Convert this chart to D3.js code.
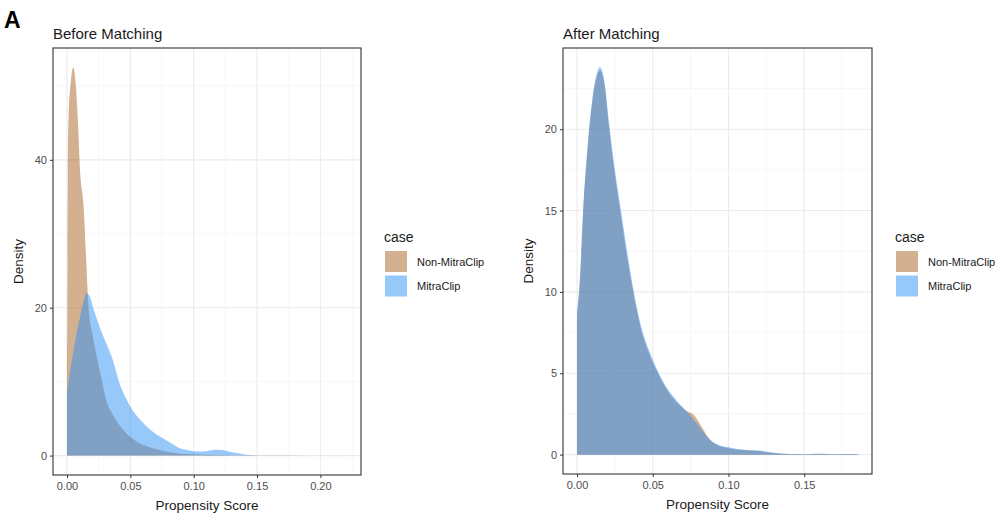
<!DOCTYPE html>
<meta charset="utf-8">
<style>
  body { margin: 0; background: #fff; }
  text { font-family: "Liberation Sans", Arial, sans-serif; }
  .tick text { fill: #4d4d4d; font-size: 11px; }
  .tick line { stroke: #333; }
  .domain { display: none; }
</style>
<body>
<svg id="chart" width="1008" height="517"></svg>
<script src="https://d3js.org/d3.v7.min.js"></script>
<script>
  // ---- data ----
  var seriesNames = ["Non-MitraClip", "MitraClip"];

  // Before matching
  var beforeNonX = [0, 0.0003, 0.0007, 0.0013, 0.003, 0.005, 0.007, 0.0084, 0.0105, 0.013, 0.015, 0.017, 0.020, 0.024, 0.028, 0.031, 0.036, 0.042, 0.050, 0.058, 0.066, 0.075, 0.085, 0.095, 0.11, 0.13, 0.16, 0.19, 0.221];
  var beforeNonY = [10.5, 20, 38, 46, 50.5, 52.5, 50, 46, 38, 34, 27, 20, 16.5, 13, 9.8, 7.5, 5.6, 4.0, 2.5, 1.6, 1.1, 0.65, 0.35, 0.2, 0.1, 0.05, 0.03, 0.02, 0.01];
  var beforeMitraX = [0, 0.0025, 0.005, 0.0075, 0.01, 0.0125, 0.0155, 0.018, 0.021, 0.026, 0.031, 0.036, 0.042, 0.047, 0.052, 0.058, 0.065, 0.073, 0.081, 0.089, 0.095, 0.10, 0.105, 0.11, 0.115, 0.12, 0.125, 0.13, 0.135, 0.14, 0.145, 0.152];
  var beforeMitraY = [8.5, 11.5, 14, 16.5, 18.5, 20.5, 22, 21.5, 19.8, 17.3, 15.2, 13, 9.5, 7.6, 6.1, 4.8, 3.6, 2.6, 1.8, 1.0, 0.75, 0.6, 0.55, 0.6, 0.75, 0.8, 0.7, 0.45, 0.3, 0.15, 0.08, 0.02];

  // After matching
  var afterNonX = [0, 0.002, 0.004, 0.007, 0.010, 0.013, 0.015, 0.018, 0.021, 0.025, 0.029, 0.033, 0.0375, 0.042, 0.048, 0.054, 0.060, 0.066, 0.072, 0.077, 0.082, 0.088, 0.095, 0.10, 0.11, 0.12, 0.13, 0.14, 0.15, 0.16, 0.17, 0.18, 0.1855];
  var afterNonY = [8.5, 10.8, 14.8, 18.8, 21.6, 23.2, 23.6, 22.8, 20.2, 17.2, 14.7, 12.2, 9.8, 7.8, 6.1, 4.9, 3.9, 3.2, 2.7, 2.45, 1.75, 0.9, 0.5, 0.4, 0.28, 0.22, 0.1, 0.04, 0.03, 0.05, 0.03, 0.04, 0.02];
  var afterMitraX = [0, 0.002, 0.004, 0.007, 0.010, 0.013, 0.015, 0.018, 0.021, 0.025, 0.029, 0.033, 0.0375, 0.042, 0.048, 0.054, 0.060, 0.066, 0.073, 0.080, 0.088, 0.095, 0.10, 0.11, 0.12, 0.13, 0.14, 0.15, 0.16, 0.17, 0.18, 0.1855];
  var afterMitraY = [8.7, 11, 15, 19, 21.8, 23.4, 23.8, 23, 20.5, 17.5, 15, 12.5, 10, 8, 6.3, 5, 4, 3.3, 2.6, 1.8, 0.9, 0.55, 0.45, 0.3, 0.25, 0.12, 0.04, 0.03, 0.05, 0.03, 0.04, 0.02];

  var beforeXTicks = [0, 0.05, 0.10, 0.15, 0.20];
  var beforeYTicks = [0, 20, 40];
  var afterXTicks = [0, 0.05, 0.10, 0.15];
  var afterYTicks = [0, 5, 10, 15, 20];

  var fills = ["rgba(160,90,22,0.48)", "rgba(45,145,245,0.5)"];

  var svg = d3.select("#chart");

  svg.append("text")
    .attr("x", 4).attr("y", 28)
    .style("font-size", "23px").style("font-weight", "bold")
    .text("A");

  function zip(xs, ys) {
    return xs.map(function (x, i) { return [x, ys[i]]; });
  }

  function panel(opt) {
    var x0 = opt.box[0], x1 = opt.box[1], y0 = opt.box[2], y1 = opt.box[3];
    var series = [zip(opt.nonX, opt.nonY), zip(opt.mitraX, opt.mitraY)];
    var xmax = d3.max(opt.nonX.concat(opt.mitraX));
    var ymax = d3.max(opt.nonY.concat(opt.mitraY));

    // ggplot style 5% expansion
    var x = d3.scaleLinear().domain([-0.05 * xmax, 1.05 * xmax]).range([x0, x1]);
    var y = d3.scaleLinear().domain([-0.05 * ymax, 1.05 * ymax]).range([y1, y0]);

    var g = svg.append("g");

    g.append("rect")
      .attr("x", x0).attr("y", y0)
      .attr("width", x1 - x0).attr("height", y1 - y0)
      .attr("fill", "#fff");

    // minor grid
    var xs = opt.xTicks, ys = opt.yTicks;
    var xMinor = [], yMinor = [];
    var dx = xs[1] - xs[0], dy = ys[1] - ys[0];
    for (var v = xs[0] - dx / 2; v <= x.domain()[1]; v += dx) if (v >= x.domain()[0]) xMinor.push(v);
    for (var w = ys[0] - dy / 2; w <= y.domain()[1]; w += dy) if (w >= y.domain()[0]) yMinor.push(w);

    g.selectAll(".xminor").data(xMinor).enter().append("line")
      .attr("x1", d => x(d)).attr("x2", d => x(d)).attr("y1", y0).attr("y2", y1)
      .attr("stroke", "#f2f2f2").attr("stroke-width", 0.6);
    g.selectAll(".yminor").data(yMinor).enter().append("line")
      .attr("y1", d => y(d)).attr("y2", d => y(d)).attr("x1", x0).attr("x2", x1)
      .attr("stroke", "#f2f2f2").attr("stroke-width", 0.6);
    g.selectAll(".xmajor").data(xs).enter().append("line")
      .attr("x1", d => x(d)).attr("x2", d => x(d)).attr("y1", y0).attr("y2", y1)
      .attr("stroke", "#ebebeb").attr("stroke-width", 1.1);
    g.selectAll(".ymajor").data(ys).enter().append("line")
      .attr("y1", d => y(d)).attr("y2", d => y(d)).attr("x1", x0).attr("x2", x1)
      .attr("stroke", "#ebebeb").attr("stroke-width", 1.1);

    var area = d3.area()
      .x(d => x(d[0]))
      .y0(y(0))
      .y1(d => y(d[1]))
      .curve(d3.curveMonotoneX);

    g.selectAll(".dens").data(series).enter().append("path")
      .attr("d", area)
      .attr("fill", (d, i) => fills[i]);

    // border
    g.append("rect")
      .attr("x", x0).attr("y", y0)
      .attr("width", x1 - x0).attr("height", y1 - y0)
      .attr("fill", "none").attr("stroke", "#333").attr("stroke-width", 1.1);

    g.append("g")
      .attr("transform", "translate(0," + y1 + ")")
      .call(d3.axisBottom(x).tickValues(xs).tickSize(3).tickPadding(4).tickFormat(d3.format(".2f")));
    g.append("g")
      .attr("transform", "translate(" + x0 + ",0)")
      .call(d3.axisLeft(y).tickValues(ys).tickSize(3).tickPadding(3).tickFormat(d3.format("d")));

    g.append("text")
      .attr("x", x0).attr("y", y0 - 9)
      .style("font-size", "15px").attr("fill", "#1a1a1a")
      .text(opt.title);

    g.append("text")
      .attr("x", (x0 + x1) / 2).attr("y", y1 + 35)
      .attr("text-anchor", "middle")
      .style("font-size", "13.5px").attr("fill", "#1a1a1a")
      .text("Propensity Score");

    g.append("text")
      .attr("transform", "translate(" + opt.yLabelX + "," + (y0 + y1) / 2 + ") rotate(-90)")
      .attr("text-anchor", "middle")
      .style("font-size", "13.5px").attr("fill", "#1a1a1a")
      .text("Density");

    // legend
    var lg = g.append("g").attr("transform", "translate(" + opt.legendX + ",0)");
    lg.append("text").attr("x", 0).attr("y", 242)
      .style("font-size", "14px").attr("fill", "#1a1a1a").text("case");
    lg.selectAll(".key").data(seriesNames).enter().append("rect")
      .attr("x", 1).attr("y", (d, i) => 251 + i * 24.5)
      .attr("width", 22).attr("height", 21)
      .attr("fill", (d, i) => fills[i]);
    lg.selectAll(".lab").data(seriesNames).enter().append("text")
      .attr("x", 33).attr("y", (d, i) => 265.5 + i * 24.5)
      .style("font-size", "11px").attr("fill", "#1a1a1a")
      .text(d => d);
  }

  panel({
    title: "Before Matching",
    box: [53, 361, 48, 475],
    nonX: beforeNonX, nonY: beforeNonY, mitraX: beforeMitraX, mitraY: beforeMitraY,
    xTicks: beforeXTicks, yTicks: beforeYTicks,
    yLabelX: 23, legendX: 384
  });

  panel({
    title: "After Matching",
    box: [563, 872, 48, 474],
    nonX: afterNonX, nonY: afterNonY, mitraX: afterMitraX, mitraY: afterMitraY,
    xTicks: afterXTicks, yTicks: afterYTicks,
    yLabelX: 533, legendX: 895
  });
</script>
</body>
